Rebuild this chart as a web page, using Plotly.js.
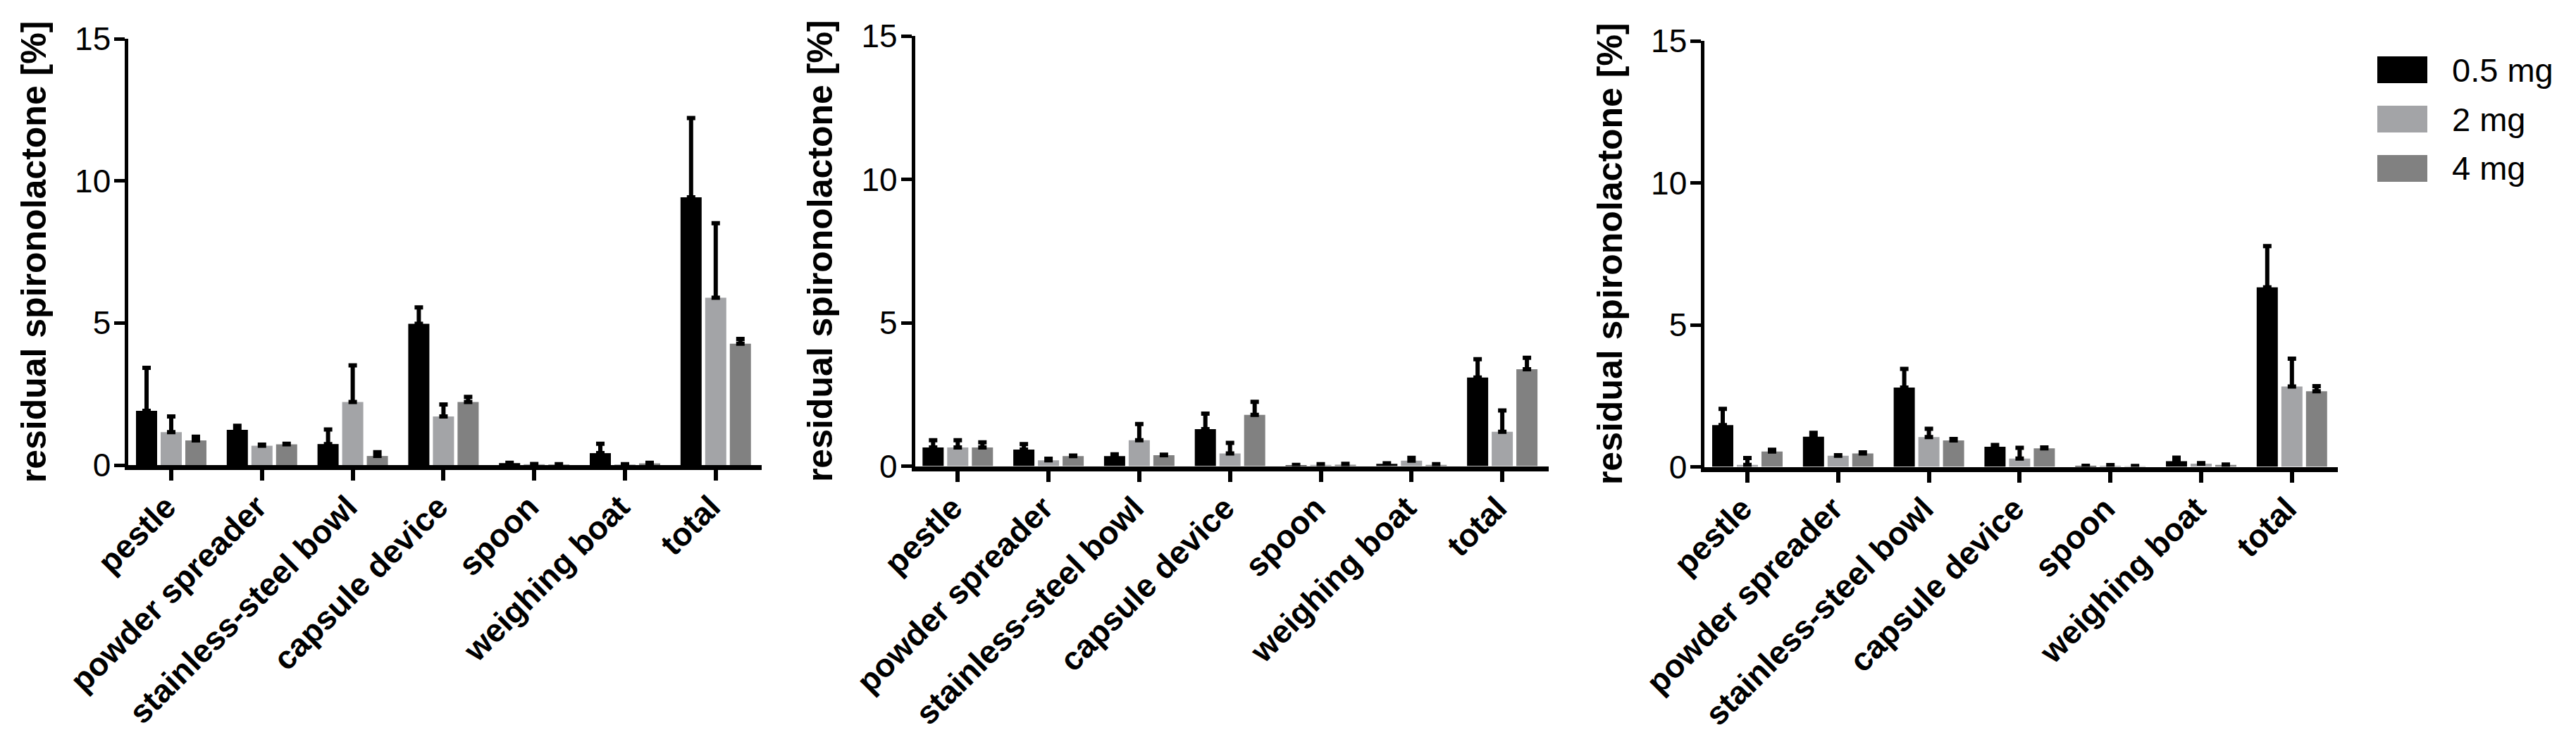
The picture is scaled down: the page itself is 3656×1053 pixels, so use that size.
<!DOCTYPE html>
<html>
<head>
<meta charset="utf-8">
<script src="https://cdn.plot.ly/plotly-3.0.1.min.js"></script>
<style>html,body{margin:0;padding:0;background:#fff;} #chart{width:3656px;height:1053px;}</style>
</head>
<body>
<div id="chart"></div>
<script>
// ---------- data ----------
const categories = ['pestle', 'powder spreader', 'stainless-steel bowl', 'capsule device', 'spoon', 'weighing boat', 'total'];
const doses = ['0.5 mg', '2 mg', '4 mg'];
const yTitle = 'residual spironolactone [%]';
const yTicks = [0, 5, 10, 15];

// panel 1
const p1_05 = [1.91, 1.24, 0.74, 4.97, 0.07, 0.42, 9.42];
const p1_05_err = [1.51, 0.14, 0.51, 0.58, 0.01, 0.33, 2.79];
const p1_2 = [1.16, 0.68, 2.22, 1.71, 0.03, 0.02, 5.89];
const p1_2_err = [0.55, 0.04, 1.29, 0.42, 0.01, 0.01, 2.62];
const p1_4 = [0.87, 0.73, 0.32, 2.22, 0.02, 0.06, 4.27];
const p1_4_err = [0.13, 0.02, 0.13, 0.18, 0.01, 0.02, 0.17];

// panel 2
const p2_05 = [0.65, 0.58, 0.35, 1.29, 0.03, 0.08, 3.09];
const p2_05_err = [0.25, 0.19, 0.06, 0.54, 0.01, 0.02, 0.64];
const p2_2 = [0.65, 0.20, 0.90, 0.44, 0.04, 0.19, 1.20];
const p2_2_err = [0.25, 0.06, 0.57, 0.37, 0.03, 0.10, 0.74];
const p2_4 = [0.65, 0.35, 0.38, 1.79, 0.05, 0.04, 3.38];
const p2_4_err = [0.18, 0.02, 0.02, 0.45, 0.03, 0.03, 0.40];

// panel 3
const p3_05 = [1.47, 1.06, 2.79, 0.71, 0.03, 0.20, 6.32];
const p3_05_err = [0.57, 0.14, 0.66, 0.06, 0.01, 0.12, 1.45];
const p3_2 = [0.07, 0.39, 1.05, 0.29, 0.04, 0.11, 2.83];
const p3_2_err = [0.24, 0.02, 0.29, 0.38, 0.02, 0.02, 0.98];
const p3_4 = [0.54, 0.47, 0.93, 0.65, 0.02, 0.07, 2.66];
const p3_4_err = [0.06, 0.04, 0.05, 0.03, 0.01, 0.01, 0.18];

// ---------- styling ----------
const W = 3656, H = 1053;
const colors = ['#000000', '#a3a4a7', '#818181'];
const FONT = 'Liberation Sans, Arial, sans-serif';

const panels = [
  {series: [[p1_05, p1_05_err], [p1_2, p1_2_err], [p1_4, p1_4_err]], tick0: 243, top: 55, bottom: 660},
  {series: [[p2_05, p2_05_err], [p2_2, p2_2_err], [p2_4, p2_4_err]], tick0: 1359.3, top: 51, bottom: 661.5},
  {series: [[p3_05, p3_05_err], [p3_2, p3_2_err], [p3_4, p3_4_err]], tick0: 2480, top: 58, bottom: 662.5}
];
const spacing = 128.8;
const xr = [-0.47, 6.51];

const traces = [];
const layout = {
  width: W, height: H,
  margin: {l: 0, r: 0, t: 0, b: 0},
  paper_bgcolor: '#ffffff', plot_bgcolor: '#ffffff',
  barmode: 'group', bargap: 0.185, bargroupgap: 0.143,
  showlegend: false,
  font: {family: FONT, color: '#000'},
  shapes: [], annotations: []
};

panels.forEach((p, i) => {
  const n = i === 0 ? '' : String(i + 1);
  const L = p.tick0 + xr[0] * spacing, R = p.tick0 + xr[1] * spacing;
  layout['xaxis' + n] = {
    domain: [L / W, R / W], range: xr, anchor: 'y' + n, type: 'category',
    showline: true, linewidth: 7, linecolor: '#000',
    ticks: 'outside', ticklen: 15, tickwidth: 6, tickcolor: '#000',
    tickangle: -45, tickfont: {family: FONT, size: 46, weight: 'bold', color: '#000'},
    ticklabelshift: -7, ticklabelstandoff: -8,
    showgrid: false, zeroline: false, fixedrange: true
  };
  layout['yaxis' + n] = {
    domain: [1 - p.bottom / H, 1 - p.top / H], range: [0, 15], anchor: 'x' + n,
    tickvals: yTicks, ticktext: yTicks.map(String),
    showline: true, linewidth: 5, linecolor: '#000',
    ticks: 'outside', ticklen: 15, tickwidth: 5, tickcolor: '#000',
    tickfont: {family: FONT, size: 46, color: '#000'},
    ticklabelstandoff: -4,
    title: {text: yTitle, font: {family: FONT, size: 50, weight: 'bold', color: '#000'}, standoff: 26},
    showgrid: false, zeroline: false, fixedrange: true
  };
  p.series.forEach((s, k) => {
    traces.push({
      type: 'bar', name: doses[k], x: categories, y: s[0],
      xaxis: 'x' + n, yaxis: 'y' + n,
      marker: {color: colors[k], line: {width: 0}},
      error_y: {type: 'data', symmetric: false, array: s[1], arrayminus: s[1].map(() => 0),
                color: '#000', thickness: 6, width: 6},
      hoverinfo: 'x+y'
    });
  });
});

// legend (swatches + text)
const legTop = [80, 150, 220], swH = 38;
doses.forEach((d, k) => {
  layout.shapes.push({
    type: 'rect', xref: 'paper', yref: 'paper',
    x0: 3374 / W, x1: 3445 / W, y0: 1 - (legTop[k] + swH) / H, y1: 1 - legTop[k] / H,
    fillcolor: colors[k], line: {width: 0}
  });
  layout.annotations.push({
    xref: 'paper', yref: 'paper', x: 3478 / W, y: 1 - (legTop[k] + swH / 2) / H,
    xanchor: 'left', yanchor: 'middle', showarrow: false, text: d,
    font: {family: FONT, size: 47, color: '#000'}
  });
});

Plotly.newPlot('chart', traces, layout, {displayModeBar: false, staticPlot: true});
</script>
</body>
</html>
